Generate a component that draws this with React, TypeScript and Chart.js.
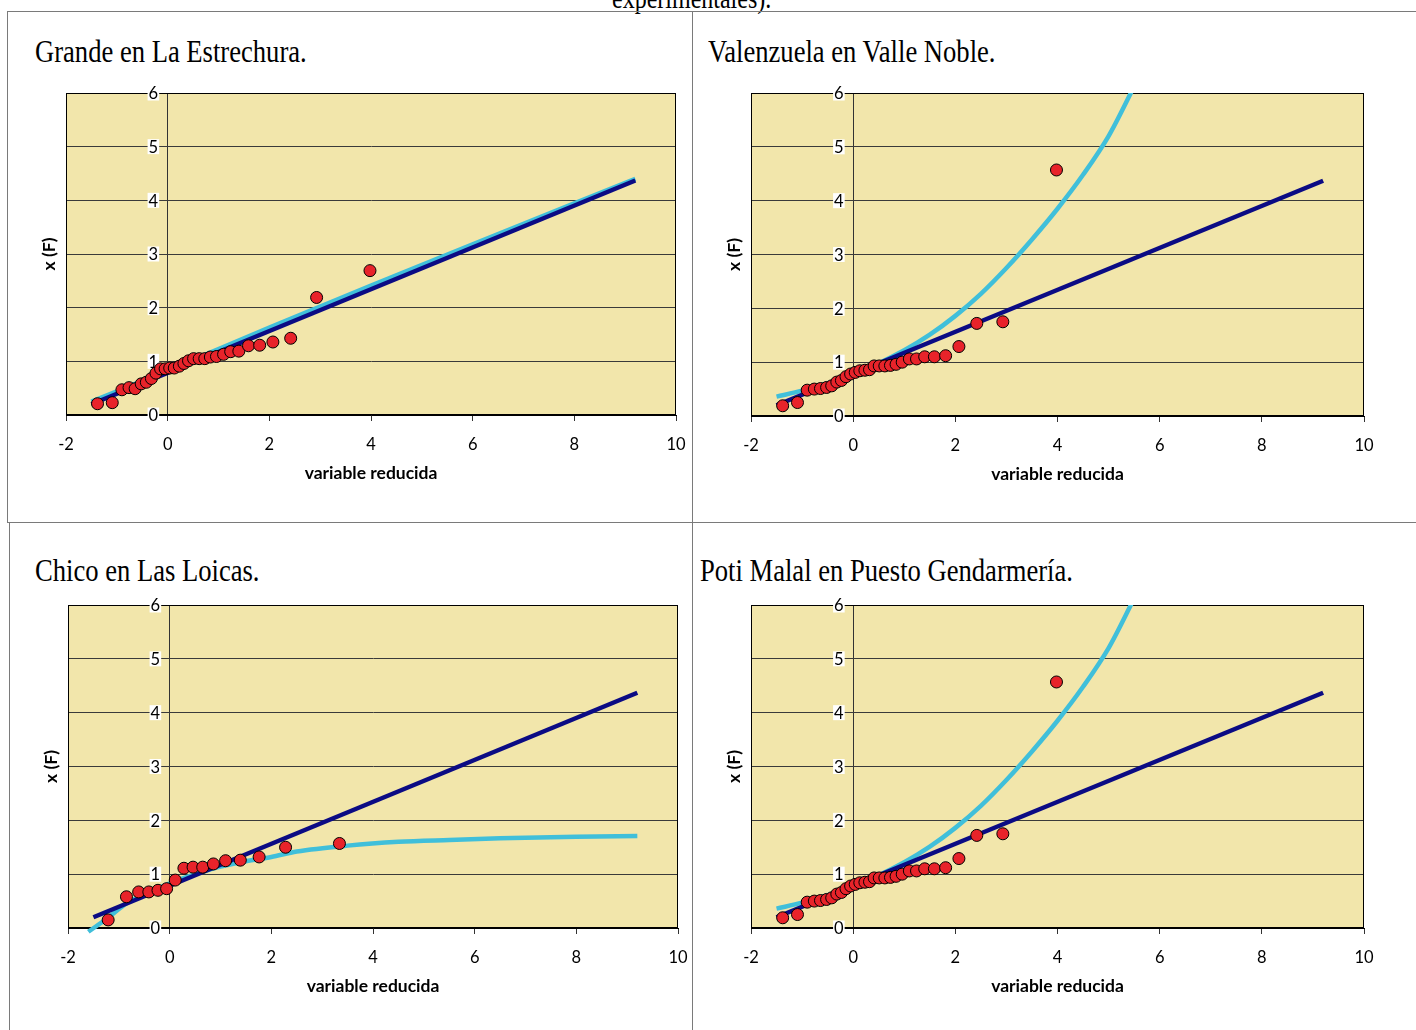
import React, { useEffect, useRef } from 'react';
import { Chart, registerables } from 'chart.js';

Chart.register(...registerables);
Chart.defaults.font.family = 'Lato, "Open Sans", sans-serif';

// ---------- data ----------
const xTickValues = [-2, 0, 2, 4, 6, 8, 10];
const yTickValues = [0, 1, 2, 3, 4, 5, 6];

// reduced variable (plotting positions) for 30-value samples
const reducedU30 = [
  -1.38, -1.09, -0.90, -0.76, -0.64, -0.52, -0.42, -0.32, -0.23, -0.14,
  -0.05, 0.04, 0.13, 0.23, 0.32, 0.41, 0.51, 0.62, 0.73, 0.84,
  0.96, 1.10, 1.24, 1.40, 1.59, 1.81, 2.07, 2.42, 2.93, 3.98,
];
// reduced variable for the 16-value sample
const reducedU16 = [
  -1.21, -0.85, -0.61, -0.41, -0.23, -0.06, 0.11, 0.28,
  0.46, 0.65, 0.86, 1.10, 1.39, 1.76, 2.28, 3.34,
];

const grandeX = [
  0.21, 0.23, 0.47, 0.51, 0.49, 0.58, 0.61, 0.68, 0.78, 0.86,
  0.86, 0.875, 0.875, 0.91, 0.96, 1.01, 1.05, 1.05, 1.05, 1.08,
  1.09, 1.13, 1.18, 1.19, 1.29, 1.30, 1.36, 1.43, 2.19, 2.69,
];
const valenzuelaX = [
  0.19, 0.25, 0.48, 0.50, 0.51, 0.53, 0.56, 0.63, 0.66, 0.73,
  0.78, 0.81, 0.84, 0.85, 0.86, 0.93, 0.93, 0.93, 0.94, 0.96,
  1.00, 1.06, 1.06, 1.10, 1.10, 1.12, 1.29, 1.72, 1.75, 4.57,
];
const chicoX = [
  0.15, 0.58, 0.67, 0.67, 0.70, 0.73, 0.89, 1.11,
  1.13, 1.13, 1.19, 1.25, 1.26, 1.32, 1.50, 1.57,
];
const potiX = [
  0.19, 0.25, 0.48, 0.50, 0.51, 0.53, 0.56, 0.63, 0.66, 0.73,
  0.78, 0.81, 0.84, 0.85, 0.86, 0.93, 0.93, 0.93, 0.94, 0.96,
  1.00, 1.06, 1.06, 1.10, 1.10, 1.12, 1.29, 1.72, 1.75, 4.57,
];

// straight (dark blue) fitted line
const fitU = [-1.5, 9.2];
const fitX = [0.2, 4.37];

// light blue fitted curves
const grandeCurveU = [-1.5, 0, 2, 4, 6, 9.2];
const grandeCurveX = [0.25, 0.83, 1.63, 2.41, 3.18, 4.4];

const steepCurveU = [-1.5, -1, -0.5, 0, 0.5, 1, 1.5, 2, 2.5, 3, 3.5, 4, 4.5, 5, 5.5];
const steepCurveX = [0.36, 0.47, 0.61, 0.78, 0.98, 1.22, 1.51, 1.86, 2.27, 2.75, 3.28, 3.85, 4.48, 5.2, 6.12];

const chicoCurveU = [-1.6, -1.2, -0.85, -0.4, 0, 0.5, 1, 1.5, 2, 2.5, 3.5, 4.5, 5.5, 6.5, 8, 9.2];
const chicoCurveX = [-0.07, 0.2, 0.46, 0.67, 0.83, 1.0, 1.14, 1.24, 1.32, 1.42, 1.53, 1.6, 1.635, 1.665, 1.695, 1.71];

// ---------- styling ----------
const TAN = '#F2E6AB';
const NAVY = '#0B0B84';
const CYAN = '#40BFDA';
const RED = '#E8232A';
const TICK_FONT = 16.5;
const TITLE_FONT = 17.5;

type Pad = { left: number; top: number; right: number; bottom: number };
type PanelDef = {
  left: number; top: number; width: number; height: number; pad: Pad;
  ptsU: number[]; ptsX: number[];
  curveU: number[]; curveX: number[]; curveClip: number;
};

const toXY = (us: number[], vs: number[]) => us.map((u, i) => ({ x: u, y: vs[i] }));

const framePlugin = {
  id: 'framePlugin',
  beforeDraw(chart: any) {
    const { ctx, chartArea: a } = chart;
    ctx.save();
    ctx.fillStyle = TAN;
    ctx.fillRect(a.left, a.top, a.right - a.left, a.bottom - a.top);
    ctx.restore();
  },
  beforeDatasetsDraw(chart: any) {
    const { ctx, chartArea: a, scales } = chart;
    ctx.save();
    ctx.strokeStyle = '#000';
    ctx.lineWidth = 1;
    const l = Math.round(a.left) + 0.5, t = Math.round(a.top) + 0.5;
    const r = Math.round(a.right) - 0.5, b = Math.round(a.bottom) - 0.5;
    ctx.strokeRect(l, t, r - l, b - t);
    // y tick labels next to the x = 0 axis, on white boxes
    const x0 = scales.x.getPixelForValue(0);
    ctx.font = `${TICK_FONT}px Lato, "Open Sans", sans-serif`;
    ctx.textAlign = 'right';
    ctx.textBaseline = 'middle';
    yTickValues.forEach((v) => {
      const py = scales.y.getPixelForValue(v);
      const label = String(v);
      const w = ctx.measureText(label).width;
      const rx = x0 - 9.5;
      ctx.fillStyle = '#fff';
      ctx.fillRect(rx - w - 1, py - 7.5, w + 2, 15);
      ctx.fillStyle = '#000';
      ctx.fillText(label, rx, py + 1);
    });
    ctx.restore();
  },
};

function ChartPanel({ p }: { p: PanelDef }) {
  const ref = useRef<HTMLCanvasElement | null>(null);
  useEffect(() => {
    if (!ref.current) return;
    const chart = new Chart(ref.current, {
      type: 'scatter',
      data: {
        datasets: [
          {
            data: toXY(p.ptsU, p.ptsX),
            pointRadius: 6,
            pointBackgroundColor: RED,
            pointBorderColor: '#000',
            pointBorderWidth: 1,
            showLine: false,
          } as any,
          {
            data: toXY(fitU, fitX),
            showLine: true,
            borderColor: NAVY,
            borderWidth: 4.5,
            pointRadius: 0,
            clip: 0,
          },
          {
            data: toXY(p.curveU, p.curveX),
            showLine: true,
            borderColor: CYAN,
            borderWidth: 4.5,
            pointRadius: 0,
            cubicInterpolationMode: 'monotone',
            clip: p.curveClip,
          },
        ],
      },
      options: {
        responsive: false,
        animation: false,
        layout: { padding: p.pad },
        plugins: { legend: { display: false }, tooltip: { enabled: false } },
        scales: {
          x: {
            type: 'linear',
            position: 'bottom',
            min: -2,
            max: 10,
            afterBuildTicks: (s: any) => {
              s.ticks = xTickValues.map((v) => ({ value: v }));
            },
            ticks: {
              color: '#000',
              font: { size: TICK_FONT },
              padding: 14,
              maxRotation: 0,
              autoSkip: false,
              callback: (v: any) => String(v),
            },
            grid: {
              color: (c: any) => (c.tick && c.tick.value === 0 ? '#333' : 'rgba(0,0,0,0)'),
              tickColor: '#333',
              tickLength: 6,
              lineWidth: 1,
              drawOnChartArea: true,
              drawTicks: true,
            },
            border: { display: true, color: '#000', width: 1 },
            title: {
              display: true,
              text: 'variable reducida',
              color: '#000',
              font: { size: TITLE_FONT, weight: 'bold' },
              padding: { top: 0, bottom: 1.5 },
            },
            afterFit: (s: any) => {
              s.height = 70;
            },
          },
          y: {
            type: 'linear',
            position: 'left',
            min: 0,
            max: 6,
            afterBuildTicks: (s: any) => {
              s.ticks = yTickValues.map((v) => ({ value: v }));
            },
            ticks: { display: false },
            grid: { color: '#3a3a3a', drawTicks: false, lineWidth: 1 },
            border: { display: true, color: '#000', width: 1 },
            title: {
              display: true,
              text: 'x (F)',
              color: '#000',
              font: { size: TITLE_FONT, weight: 'bold' },
              padding: { top: 2.5, bottom: 0 },
            },
            afterFit: (s: any) => {
              s.width = 30;
            },
          },
        },
      } as any,
      plugins: [framePlugin],
    });
    return () => chart.destroy();
  }, []);
  return (
    <canvas
      ref={ref}
      width={p.width}
      height={p.height}
      style={{ position: 'absolute', left: p.left, top: p.top, width: p.width, height: p.height }}
    />
  );
}

const panels: PanelDef[] = [
  {
    left: 8, top: 80, width: 740, height: 430,
    pad: { left: 28, top: 13, right: 72, bottom: 25 },
    ptsU: reducedU30, ptsX: grandeX, curveU: grandeCurveU, curveX: grandeCurveX, curveClip: 0,
  },
  {
    left: 693, top: 80, width: 723, height: 430,
    pad: { left: 28, top: 13, right: 52, bottom: 24 },
    ptsU: reducedU30, ptsX: valenzuelaX, curveU: steepCurveU, curveX: steepCurveX, curveClip: 0,
  },
  {
    left: 9, top: 592, width: 739, height: 430,
    pad: { left: 29, top: 13, right: 70, bottom: 24 },
    ptsU: reducedU16, ptsX: chicoX, curveU: chicoCurveU, curveX: chicoCurveX, curveClip: 6,
  },
  {
    left: 693, top: 592, width: 723, height: 430,
    pad: { left: 28, top: 13, right: 52, bottom: 24 },
    ptsU: reducedU30, ptsX: potiX, curveU: steepCurveU, curveX: steepCurveX, curveClip: 0,
  },
];

const titles = [
  { text: 'Grande en La Estrechura.', left: 35, top: 36 },
  { text: 'Valenzuela en Valle Noble.', left: 708, top: 36 },
  { text: 'Chico en Las Loicas.', left: 35, top: 555 },
  { text: 'Poti Malal en Puesto Gendarmería.', left: 700, top: 555 },
];

const serif = '"Liberation Serif", "Times New Roman", serif';
const LINE = '#7a7a7a';

export default function App() {
  return (
    <div style={{ position: 'absolute', left: 0, top: 0, width: 1416, height: 1030, overflow: 'hidden', background: '#fff' }}>
      <div
        style={{
          position: 'absolute', left: 612, top: -16, fontFamily: serif, fontSize: 24, lineHeight: 1,
          whiteSpace: 'nowrap', transform: 'scaleY(1.2)', transformOrigin: '0 0', color: '#000',
        }}
      >
        experimentales).
      </div>
      {titles.map((t) => (
        <div
          key={t.text}
          style={{
            position: 'absolute', left: t.left, top: t.top, fontFamily: serif, fontSize: 26.6, lineHeight: 1,
            whiteSpace: 'nowrap', transform: 'scaleY(1.2)', transformOrigin: '0 0', color: '#000',
          }}
        >
          {t.text}
        </div>
      ))}
      {panels.map((p, i) => (
        <ChartPanel key={i} p={p} />
      ))}
      <div style={{ position: 'absolute', left: 7, top: 11, width: 1409, height: 1, background: LINE }} />
      <div style={{ position: 'absolute', left: 7, top: 11, width: 1, height: 512, background: LINE }} />
      <div style={{ position: 'absolute', left: 9, top: 522, width: 1, height: 508, background: LINE }} />
      <div style={{ position: 'absolute', left: 692, top: 11, width: 1, height: 1019, background: LINE }} />
      <div style={{ position: 'absolute', left: 7, top: 522, width: 1409, height: 1, background: LINE }} />
    </div>
  );
}
